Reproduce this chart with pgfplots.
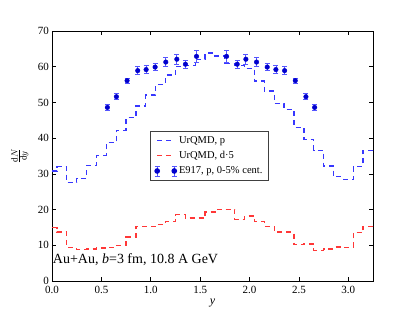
\documentclass[border=0pt]{standalone}
\usepackage{fontspec}
\setmainfont{Liberation Serif}
\usepackage{pgfplots}
\usepackage{pgfplotstable}
\pgfplotsset{compat=1.18}
\definecolor{bl}{RGB}{55,55,255}
\definecolor{rd}{RGB}{255,55,55}
\definecolor{mk}{RGB}{0,0,205}
\definecolor{eb}{RGB}{85,85,255}

\pgfplotstableread{
x y
0.0 30.8
0.1 32.0
0.2 27.5
0.3 28.7
0.4 32.4
0.5 35.2
0.6 38.7
0.7 42.2
0.8 45.7
0.9 49.0
1.0 52.1
1.1 55.0
1.2 57.7
1.3 60.1
1.4 60.4
1.5 62.1
1.6 63.8
1.7 63.0
1.8 60.9
1.9 60.4
2.0 59.5
2.1 56.0
2.2 53.2
2.3 49.7
2.4 48.0
2.5 43.0
2.6 39.6
2.7 36.6
2.8 32.2
2.9 29.2
3.0 28.5
3.1 32.0
3.2 36.6
3.3 36.6
}\protons

\pgfplotstableread{
x y
0.0 14.9
0.1 13.7
0.2 9.4
0.3 8.8
0.4 9.0
0.5 9.2
0.6 9.3
0.7 10.0
0.8 12.3
0.9 15.3
1.0 15.3
1.1 15.9
1.2 16.7
1.3 18.6
1.4 17.6
1.5 17.6
1.6 19.3
1.7 20.0
1.8 20.1
1.9 17.3
2.0 18.2
2.1 16.7
2.2 15.3
2.3 13.7
2.4 13.7
2.5 10.2
2.6 10.4
2.7 8.6
2.8 9.0
2.9 9.5
3.0 9.4
3.1 13.5
3.2 15.3
3.3 15.3
}\deuterons

\pgfplotstableread{
x y e
0.561 48.6 0.8
0.652 51.6 0.8
0.760 56.1 0.7
0.868 58.9 1.1
0.953 59.2 1.1
1.044 59.9 1.0
1.152 61.3 1.2
1.264 62.1 1.4
1.351 60.7 1.1
1.463 62.9 1.6
1.767 62.9 1.6
1.875 60.7 1.1
1.963 62.1 1.4
2.071 61.3 1.2
2.179 59.9 1.0
2.267 59.2 1.1
2.355 58.9 1.1
2.463 56.1 0.7
2.571 51.6 0.8
2.659 48.6 0.8
}\efnine

\begin{document}
\begin{tikzpicture}
\begin{axis}[
  scale only axis,
  width=321pt, height=250pt,
  xmin=0, xmax=3.25, ymin=0, ymax=70,
  xtick={0,0.5,1.0,1.5,2.0,2.5,3.0},
  ytick={0,10,20,30,40,50,60,70},
  tick align=inside,
  major tick length=4pt,
  tick style={black, line width=0.6pt},
  axis line style={line width=0.9pt},
  /pgf/number format/assume math mode=true,
  xticklabel style={/pgf/number format/.cd, fixed, fixed zerofill, precision=1},
  yticklabel style={/pgf/number format/.cd, fixed, precision=0},
  tick label style={font=\fontsize{11}{12}\selectfont},
  xticklabel shift=2pt,
  yticklabel shift=-0.5pt,
  xlabel={\textit{y}},
  xlabel style={font=\fontsize{12}{14}\selectfont, at={(axis description cs:0.5,-0.088)}, anchor=center},
  ylabel={$\frac{\mathrm{d}N}{\mathrm{d}y}$},
  ylabel style={font=\fontsize{13}{14}\selectfont, at={(axis description cs:-0.1,0.5)}, anchor=center},
  legend style={at={(0.305,0.6)}, anchor=north west, draw=black!75, line width=1pt,
    font=\fontsize{10.5}{12}\selectfont, row sep=2.5pt, inner xsep=4pt, inner ysep=3pt},
  legend cell align=left,
]
\addplot[const plot mark mid, bl, line width=1.3pt, dash pattern=on 5pt off 4pt,
  legend image code/.code={\draw[bl, line width=1.3pt, dash pattern=on 5pt off 4pt] (0cm,0cm) -- (0.6cm,0cm);}] table[x=x,y=y] {\protons};
\addlegendentry{UrQMD, p}
\addplot[const plot mark mid, rd, line width=1.3pt, dash pattern=on 5pt off 4pt,
  legend image code/.code={\draw[rd, line width=1.3pt, dash pattern=on 5pt off 4pt] (0cm,0cm) -- (0.6cm,0cm);}] table[x=x,y=y] {\deuterons};
\addlegendentry{UrQMD, d·5}
\addplot[only marks, mark=*, mark size=2.3pt, mk, mark options={fill=mk, draw=mk},
  legend image code/.code={%
    \draw[eb, line width=0.8pt] (0cm,-5pt) -- (0cm,5pt) (-2.3pt,-5pt) -- (2.3pt,-5pt) (-2.3pt,5pt) -- (2.3pt,5pt);
    \draw[eb, line width=0.8pt] (0.6cm,-5pt) -- (0.6cm,5pt) ([xshift=-2.3pt]0.6cm,-5pt) -- ([xshift=2.3pt]0.6cm,-5pt) ([xshift=-2.3pt]0.6cm,5pt) -- ([xshift=2.3pt]0.6cm,5pt);
    \fill[mk] (0cm,0cm) circle (2.3pt) (0.6cm,0cm) circle (2.3pt);
  },
  error bars/.cd, y dir=both, y explicit,
  error bar style={eb, line width=0.8pt},
  error mark options={rotate=90, eb, mark size=2.5pt, line width=0.8pt},
  ] table[x=x,y=y,y error=e] {\efnine};
\addlegendentry{E917, p, 0-5\% cent.}
\node[anchor=base west, font=\fontsize{14}{16}\selectfont, inner sep=0pt] at (axis cs:0.008,5.0) {Au+Au, \textit{b}=3 fm, 10.8 A GeV};
\end{axis}
\path ([shift={(-52pt,-31pt)}]current axis.south west) rectangle ([shift={(42pt,31pt)}]current axis.north east);
\end{tikzpicture}
\end{document}
